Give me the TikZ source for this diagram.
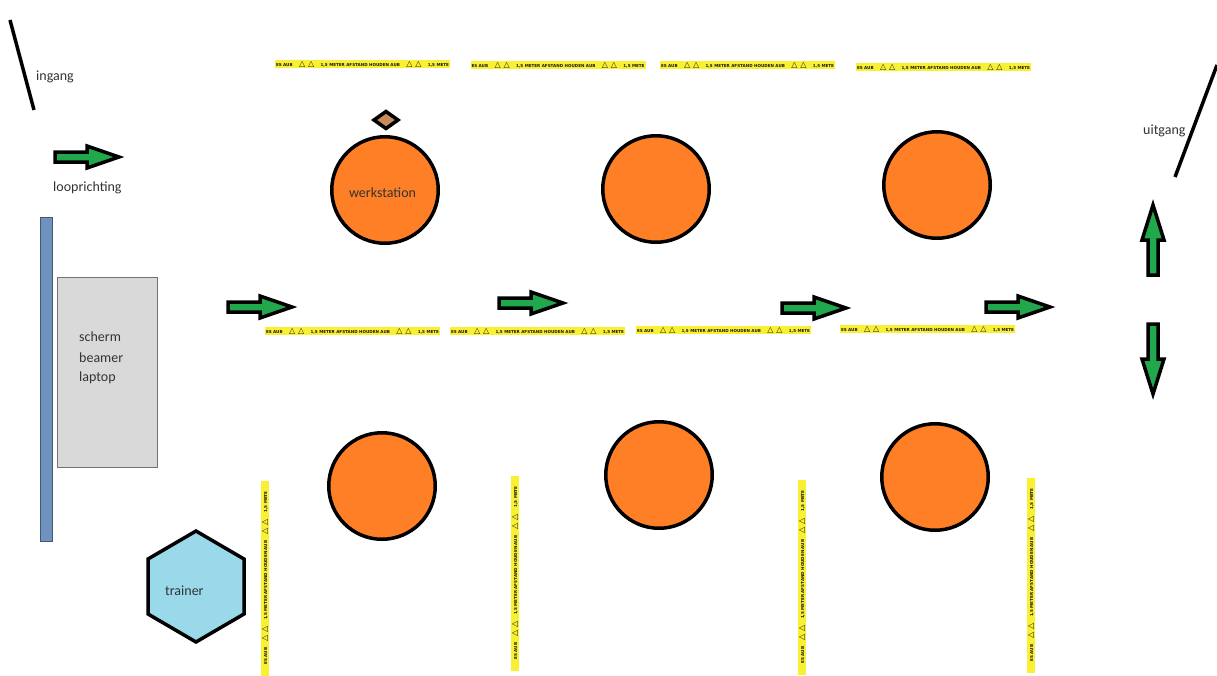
\documentclass[tikz,border=0pt]{standalone}
\usepackage{fontspec}
\setmainfont{Carlito}
\newfontfamily\tapefont{DejaVu Sans}
\definecolor{tapey}{HTML}{FAF032}
\definecolor{arrowg}{HTML}{22A84C}
\definecolor{orangec}{HTML}{FF7F27}
\definecolor{barblue}{HTML}{7092BE}
\definecolor{screeng}{HTML}{D9D9D9}
\definecolor{hexblue}{HTML}{99D9EA}
\definecolor{diamondb}{HTML}{C88B5C}
\definecolor{labelc}{HTML}{333333}
\tikzset{
  station/.style={circle,draw=black,line width=3.5pt,fill=orangec,minimum size=106.5pt,inner sep=0pt},
  wall/.style={draw=black,line width=3.5pt},
  lbl/.style={font=\fontsize{14}{15}\selectfont,text=labelc,inner sep=0pt},
  tapeband/.style={fill=tapey,inner sep=0pt,minimum width=175pt,minimum height=8.5pt,
    font=\tapefont\bfseries\fontsize{4.1}{4.1}\selectfont,text=black!90},
  walkarrow/.style={draw=black,line width=3.5pt,fill=arrowg,line join=miter,miter limit=10}
}
\newcommand{\tapetext}{\makebox[173pt]{ES AUB\hfill{\fontsize{8}{8}\selectfont △\ △}\hfill 1,5 METER AFSTAND HOUDEN AUB\hfill{\fontsize{8}{8}\selectfont △\ △}\hfill 1,5 METE}}
\newcommand{\walk}[4]{% x, y, rotation, half length
  \draw[walkarrow,shift={(#1,#2)},rotate=#3]
    (-#4,-5) -- (0,-5) -- (0,-11) -- (#4,0) -- (0,11) -- (0,5) -- (-#4,5) -- cycle;}
\begin{document}
\begin{tikzpicture}[x=1pt,y=-1pt]
\useasboundingbox (0,0) rectangle (1217,675);
\fill[white] (0,0) rectangle (1217,675);
% doors
\coordinate (ina) at (10,20); \coordinate (inb) at (34,110);
\draw[wall] (ina) -- (inb);
\coordinate (outa) at (1217,65); \coordinate (outb) at (1175,177);
\draw[wall] (outa) -- (outb);
\node[lbl,anchor=west] (ingang) at (36,76.5) {ingang};
\node[lbl,anchor=west] (uitgang) at (1143,131) {uitgang};
\node[lbl,anchor=west] (loop) at (53,188) {looprichting};
% screen
\fill[barblue] (40,217) rectangle (52,541);
\draw[barblue!60!black,line width=0.4pt] (40,217) rectangle (52,541);
\draw[fill=screeng,draw=black!55,line width=0.7pt] (57,277) rectangle (157,467);
\node[lbl,anchor=west] (scherm) at (79,337) {scherm};
\node[lbl,anchor=west] (beamer) at (79,357.5) {beamer};
\node[lbl,anchor=west] (laptop) at (79,378) {laptop};
% trainer
\draw[wall,fill=hexblue,line join=miter] (196,531) -- (244,559) -- (244,614) -- (196,642) -- (148,614) -- (148,559) -- cycle;
\node[lbl,anchor=west] (trainer) at (165,590.5) {trainer};
% stations
\node[station] (s1) at (385,190) {};
\node[station] (s2) at (656,189) {};
\node[station] (s3) at (937,185) {};
\node[station] (s4) at (382,486) {};
\node[station] (s5) at (659,475) {};
\node[station] (s6) at (935,477) {};
\node[lbl,text=black!80] (werk) at (382.5,192.5) {werkstation};
\draw[wall,fill=diamondb,line join=miter] (386,111.5) -- (398,120) -- (386,128.5) -- (374,120) -- cycle;
% tapes
\foreach \nm/\x/\y in {t1/362.5/64,t2/558/65,t3/747.5/65,t4/943.5/67,t5/352.5/331,t6/537.5/331,t7/723.5/330,t8/927.5/329}
  \node[tapeband] (\nm) at (\x,\y) {\tapetext};
\foreach \nm/\x/\y in {v1/265/578,v2/515/573,v3/802/577,v4/1031/575}
  \node[tapeband,rotate=90,minimum width=195pt] (\nm) at (\x,\y) {\tapetext};
% walking arrows
\walk{87}{157}{0}{32}
\walk{260}{307}{0}{32}
\walk{531}{303}{0}{32}
\walk{814}{308}{0}{32}
\walk{1018}{307}{0}{32}
\walk{1153}{240}{90}{35}
\walk{1153}{359}{-90}{35}
\end{tikzpicture}
\end{document}
